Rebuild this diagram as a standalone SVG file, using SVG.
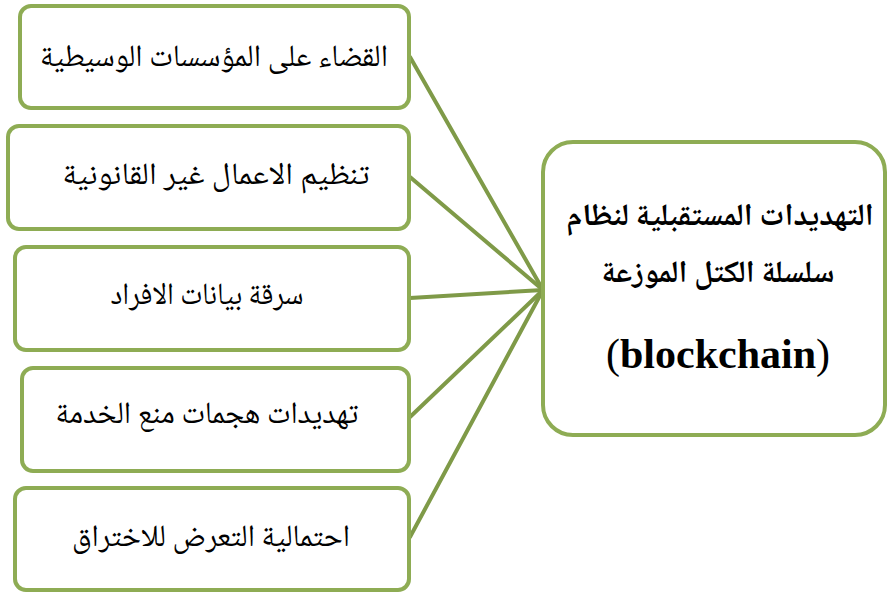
<svg xmlns="http://www.w3.org/2000/svg" width="888" height="595" viewBox="0 0 888 595">
  <style>
    .box { fill: #ffffff; stroke: #8eac54; stroke-width: 4; }
    .link { stroke: #7f9a48; stroke-width: 4; fill: none; stroke-linecap: round; }
    .lbl { font-family: "Noto Naskh Arabic", "Amiri", "DejaVu Sans", serif; font-size: 31px; fill: #000; text-anchor: middle; }
    .main { font-family: "Noto Naskh Arabic", "Amiri", "DejaVu Sans", serif; font-size: 31px; font-weight: bold; fill: #000; text-anchor: middle; }
    .latin { font-family: "Liberation Serif", "Times New Roman", serif; font-size: 42px; fill: #000; text-anchor: middle; }
  </style>
  <rect width="888" height="595" fill="#ffffff"/>

  <!-- connectors from each threat box to the central box -->
  <g id="connectors">
    <line class="link" x1="410" y1="57" x2="543" y2="290"/>
    <line class="link" x1="410" y1="177" x2="543" y2="290"/>
    <line class="link" x1="410" y1="298" x2="543" y2="290"/>
    <line class="link" x1="410" y1="417" x2="543" y2="290"/>
    <line class="link" x1="410" y1="537" x2="543" y2="290"/>
  </g>

  <g id="node-intermediaries">
    <rect class="box" x="20" y="6" width="389" height="102" rx="11"/>
    <text class="lbl" x="214" y="66" direction="rtl" textLength="348" lengthAdjust="spacingAndGlyphs">القضاء على المؤسسات الوسيطية</text>
  </g>

  <g id="node-illegal">
    <rect class="box" x="8" y="126" width="401" height="103" rx="11"/>
    <text class="lbl" x="216" y="184" direction="rtl" textLength="307" lengthAdjust="spacingAndGlyphs">تنظيم الاعمال غير القانونية</text>
  </g>

  <g id="node-data-theft">
    <rect class="box" x="15" y="247" width="394" height="103" rx="11"/>
    <text class="lbl" x="207" y="304" direction="rtl" textLength="193" lengthAdjust="spacingAndGlyphs">سرقة بيانات الافراد</text>
  </g>

  <g id="node-dos">
    <rect class="box" x="22" y="368" width="387" height="103" rx="11"/>
    <text class="lbl" x="207" y="423" direction="rtl" textLength="303" lengthAdjust="spacingAndGlyphs">تهديدات هجمات منع الخدمة</text>
  </g>

  <g id="node-breach">
    <rect class="box" x="15" y="488" width="394" height="102" rx="11"/>
    <text class="lbl" x="211" y="546" direction="rtl" textLength="278" lengthAdjust="spacingAndGlyphs">احتمالية التعرض للاختراق</text>
  </g>

  <g id="node-blockchain">
    <rect class="box" x="543" y="142" width="342" height="293" rx="30"/>
    <text class="main" x="720" y="225" direction="rtl" textLength="307" lengthAdjust="spacingAndGlyphs">التهديدات المستقبلية لنظام</text>
    <text class="main" x="718" y="282" direction="rtl" textLength="233" lengthAdjust="spacingAndGlyphs">سلسلة الكتل الموزعة</text>
    <text class="latin" x="718" y="368">(<tspan font-weight="bold">blockchain</tspan>)</text>
  </g>
</svg>
